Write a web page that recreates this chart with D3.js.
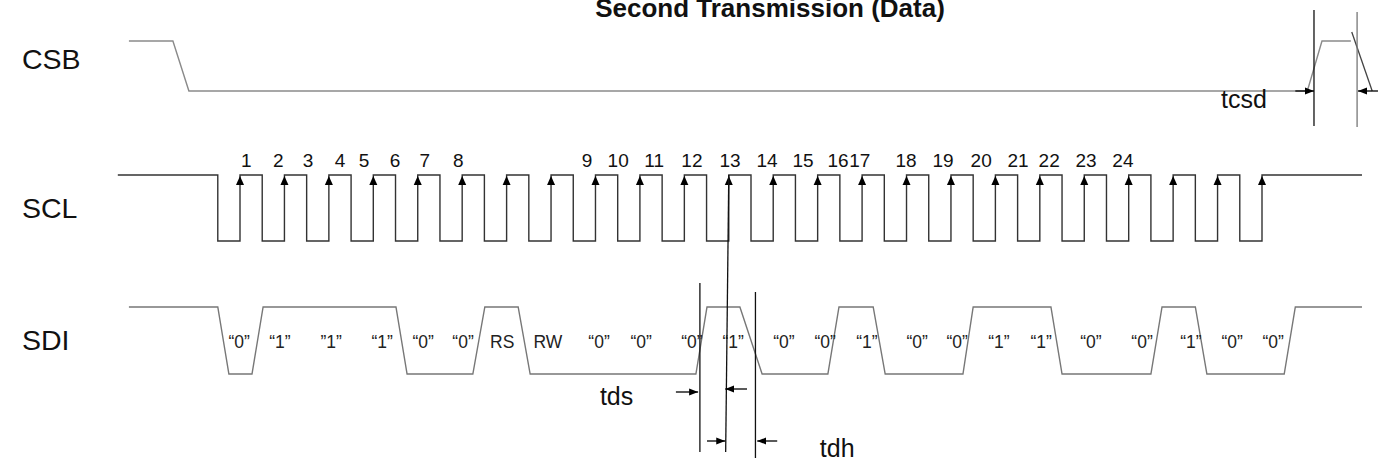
<!DOCTYPE html>
<html>
<head>
<meta charset="utf-8">
<script src="https://cdn.jsdelivr.net/npm/d3@7"></script>
<style>
  body { margin: 0; background: #fff; }
  text { font-family: "Liberation Sans", Arial, sans-serif; }
</style>
</head>
<body>
<div id="my_dataviz"></div>
<script>
// time is measured in SCL clock periods, 0 = first rising edge
const title = "Second Transmission (Data)";
const signalNames = ["CSB", "SCL", "SDI"];

// SCL rising edges and the numbers written above them
const sclRises = [0, 1, 2, 3, 4, 5, 6, 7, 8, 9, 10, 11, 12, 13, 14, 15, 16, 17, 18, 19, 20, 21, 22, 23];
const clockLabels = ["1","2","3","4","5","6","7","8","9","10","11","12","13","14","15","16","17","18","19","20","21","22","23","24"];
const clockLabelPos = [0.14, 0.86, 1.53, 2.25, 2.79, 3.49, 4.16, 4.91, 7.81, 8.51, 9.32, 10.17,
                       11.03, 11.86, 12.67, 13.46, 13.95, 14.99, 15.82, 16.68, 17.51, 18.21, 19.04, 19.87];
const sclStart = -2.75, sclEnd = 25.25;

// CSB waveform [time, level]
const csbPoints = [[-2.5, 1], [-1.51, 1], [-1.15, 0], [24.02, 0], [24.35, 1], [25.0, 1]];
const csbFall = [[25.02, 1.18], [25.48, 0]];

// SDI waveform [time, level]
const sdiPoints = [[-2.5, 1], [-0.5, 1], [-0.25, 0], [0.27, 0], [0.52, 1], [3.51, 1], [3.76, 0],
  [5.24, 0], [5.51, 1], [6.26, 1], [6.53, 0], [10.26, 0], [10.51, 1], [11.25, 1], [11.75, 0],
  [13.23, 0], [13.48, 1], [14.25, 1], [14.52, 0], [16.27, 0], [16.5, 1], [18.25, 1], [18.5, 0],
  [20.5, 0], [20.75, 1], [21.5, 1], [21.76, 0], [23.5, 0], [23.75, 1], [25.25, 1]];

// bit names written inside SDI
const bitLabels = ["“0”","“1”","”1”","“1”","“0”","“0”","RS","RW","“0”","“0”","“0”","“1”",
                   "“0”","“0”","“1”","“0”","“0”","“1”","“1”","“0”","“0”","“1”","“0”","“0”"];
const bitLabelPos = [-0.02, 0.90, 2.05, 3.20, 4.12, 5.02, 5.90, 6.93, 8.08, 9.03, 10.17, 11.10,
                     12.24, 13.17, 14.11, 15.24, 16.14, 17.08, 18.03, 19.15, 20.30, 21.40, 22.33, 23.25];

// timing marks: vertical guides [time top, y top, time bottom, y bottom]
const guides = [
  {t1: 11, y1: 175, t2: 10.93, y2: 452, c: "#111"},
  {t1: 10.35, y1: 283, t2: 10.35, y2: 452, c: "#111"},
  {t1: 11.6, y1: 292, t2: 11.6, y2: 458, c: "#111"},
  {t1: 24.17, y1: 10, t2: 24.17, y2: 126, c: "#111"},
  {t1: 25.14, y1: 12, t2: 25.14, y2: 127, c: "#777"}
];
// arrows [from time, to time, y]
const arrows = [
  [9.81, 10.31, 392], [11.41, 10.92, 389],   // tds
  [10.51, 10.92, 441], [12.09, 11.64, 441],  // tdh
  [23.75, 24.17, 91], [25.61, 25.16, 91]     // tcsd
];
const timingNames = [
  {name: "tds", t: 8.10, y: 405},
  {name: "tdh", t: 13.05, y: 457},
  {name: "tcsd", t: 22.08, y: 108}
];

const width = 1378, height = 462;

const svg = d3.select("#my_dataviz")
  .append("svg")
  .attr("width", width)
  .attr("height", height);

const x = d3.scaleLinear().domain([0, 23]).range([240, 1262]);

// one level scale per lane
const lane = {
  CSB: d3.scaleLinear().domain([0, 1]).range([91, 41]),
  SCL: d3.scaleLinear().domain([0, 1]).range([241, 175]),
  SDI: d3.scaleLinear().domain([0, 1]).range([374, 307])
};
const labelY = {CSB: 69, SCL: 218, SDI: 350};

const defs = svg.append("defs");
defs.append("marker")
  .attr("id", "head")
  .attr("markerUnits", "userSpaceOnUse")
  .attr("markerWidth", 10).attr("markerHeight", 10)
  .attr("refX", 9).attr("refY", 5)
  .attr("orient", "auto")
  .append("path")
  .attr("d", "M0,1.5 L9,5 L0,8.5 Z")
  .attr("fill", "#000");

// title (cut at the top edge, as in the source)
svg.append("text")
  .attr("x", 770).attr("y", 17)
  .attr("text-anchor", "middle")
  .attr("font-size", "26px")
  .attr("font-weight", "bold")
  .attr("fill", "#111")
  .text(title);

// signal names
svg.selectAll(".sig")
  .data(signalNames)
  .join("text")
  .attr("class", "sig")
  .attr("x", 22)
  .attr("y", d => labelY[d])
  .attr("font-size", "28.5px")
  .attr("fill", "#111")
  .text(d => d);

function wave(name) {
  return d3.line()
    .x(d => x(d[0]))
    .y(d => lane[name](d[1]));
}

// CSB
svg.append("path")
  .datum(csbPoints)
  .attr("fill", "none")
  .attr("stroke", "#8a8a8a")
  .attr("stroke-width", 1.4)
  .attr("d", wave("CSB"));
svg.append("path")
  .datum(csbFall)
  .attr("fill", "none")
  .attr("stroke", "#444")
  .attr("stroke-width", 1.3)
  .attr("d", wave("CSB"));

// SCL built from its rising edges
const sclPoints = [[sclStart, 1]];
sclRises.forEach(k => {
  sclPoints.push([k - 0.5, 1], [k - 0.5, 0], [k, 0], [k, 1]);
});
sclPoints.push([sclEnd, 1]);

svg.append("path")
  .datum(sclPoints)
  .attr("fill", "none")
  .attr("stroke", "#333")
  .attr("stroke-width", 1.4)
  .attr("d", wave("SCL"));

// arrowheads on rising edges
svg.selectAll(".edge")
  .data(sclRises)
  .join("path")
  .attr("class", "edge")
  .attr("d", d => {
    const px = x(d), py = lane.SCL(1) + 1;
    return `M${px},${py} L${px - 4},${py + 9} L${px + 4},${py + 9} Z`;
  })
  .attr("fill", "#000");

svg.selectAll(".clk")
  .data(clockLabels)
  .join("text")
  .attr("class", "clk")
  .attr("x", (d, i) => x(clockLabelPos[i]))
  .attr("y", 167)
  .attr("text-anchor", "middle")
  .attr("font-size", "19px")
  .attr("fill", "#111")
  .text(d => d);

// SDI
svg.append("path")
  .datum(sdiPoints)
  .attr("fill", "none")
  .attr("stroke", "#777")
  .attr("stroke-width", 1.4)
  .attr("d", wave("SDI"));

svg.selectAll(".bit")
  .data(bitLabels)
  .join("text")
  .attr("class", "bit")
  .attr("x", (d, i) => x(bitLabelPos[i]))
  .attr("y", 348)
  .attr("text-anchor", "middle")
  .attr("font-size", "17.5px")
  .attr("fill", "#222")
  .text(d => d);

// timing guides and arrows
svg.selectAll(".guide")
  .data(guides)
  .join("line")
  .attr("class", "guide")
  .attr("x1", d => x(d.t1)).attr("y1", d => d.y1)
  .attr("x2", d => x(d.t2)).attr("y2", d => d.y2)
  .attr("stroke", d => d.c)
  .attr("stroke-width", 1.3);

svg.selectAll(".arrow")
  .data(arrows)
  .join("line")
  .attr("class", "arrow")
  .attr("x1", d => x(d[0])).attr("y1", d => d[2])
  .attr("x2", d => x(d[1])).attr("y2", d => d[2])
  .attr("stroke", "#000")
  .attr("stroke-width", 1.3)
  .attr("marker-end", "url(#head)");

svg.selectAll(".tname")
  .data(timingNames)
  .join("text")
  .attr("class", "tname")
  .attr("x", d => x(d.t))
  .attr("y", d => d.y)
  .attr("font-size", "25px")
  .attr("fill", "#111")
  .text(d => d.name);
</script>
</body>
</html>
